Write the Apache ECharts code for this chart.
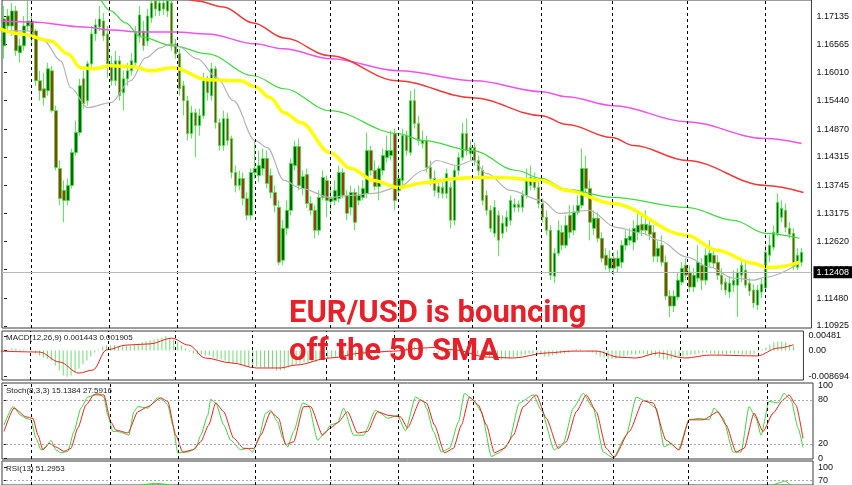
<!DOCTYPE html>
<html><head><meta charset="utf-8">
<script src="https://cdn.jsdelivr.net/npm/echarts@6/dist/echarts.min.js"></script>
<style>html,body{margin:0;padding:0;background:#fff}#c{width:852px;height:485px}</style>
</head><body><div id="c"></div>
<script>
// candles: [open, close, low, high]
const candles = [
[1.1654,1.1708,1.1628,1.1734],[1.1714,1.1694,1.1684,1.1728],[1.1694,1.1724,1.1674,1.1740],[1.1724,1.1644,1.1634,1.1734],[1.1640,1.1654,1.1620,1.1668],
[1.1654,1.1694,1.1644,1.1714],[1.1694,1.1704,1.1684,1.1744],[1.1704,1.1668,1.1660,1.1714],[1.1684,1.1584,1.1574,1.1688],[1.1584,1.1564,1.1544,1.1604],
[1.1568,1.1550,1.1534,1.1600],[1.1564,1.1608,1.1554,1.1620],[1.1604,1.1524,1.1520,1.1614],[1.1524,1.1410,1.1404,1.1534],[1.1408,1.1348,1.1334,1.1424],
[1.1364,1.1344,1.1300,1.1384],[1.1344,1.1374,1.1334,1.1388],[1.1374,1.1440,1.1368,1.1448],[1.1440,1.1480,1.1434,1.1504],[1.1480,1.1574,1.1474,1.1588],
[1.1588,1.1538,1.1528,1.1604],[1.1544,1.1618,1.1534,1.1624],[1.1618,1.1678,1.1612,1.1694],[1.1678,1.1696,1.1664,1.1708],[1.1692,1.1708,1.1684,1.1734],
[1.1704,1.1674,1.1664,1.1720],[1.1678,1.1618,1.1590,1.1694],[1.1618,1.1584,1.1574,1.1634],[1.1584,1.1624,1.1574,1.1644],[1.1624,1.1554,1.1544,1.1634],
[1.1560,1.1588,1.1524,1.1604],[1.1588,1.1604,1.1574,1.1620],[1.1604,1.1624,1.1594,1.1640],[1.1620,1.1680,1.1614,1.1694],[1.1674,1.1716,1.1660,1.1734],
[1.1684,1.1654,1.1644,1.1704],[1.1664,1.1714,1.1654,1.1728],[1.1710,1.1740,1.1700,1.1754],[1.1744,1.1728,1.1714,1.1760],[1.1724,1.1740,1.1714,1.1764],
[1.1740,1.1728,1.1716,1.1756],[1.1724,1.1744,1.1712,1.1760],[1.1740,1.1654,1.1644,1.1748],[1.1658,1.1638,1.1628,1.1668],[1.1638,1.1568,1.1554,1.1648],
[1.1574,1.1544,1.1514,1.1584],[1.1544,1.1478,1.1464,1.1554],[1.1478,1.1520,1.1468,1.1534],[1.1520,1.1494,1.1430,1.1528],[1.1494,1.1514,1.1474,1.1528],
[1.1514,1.1584,1.1508,1.1600],[1.1584,1.1560,1.1544,1.1594],[1.1554,1.1608,1.1544,1.1620],[1.1608,1.1500,1.1488,1.1614],[1.1500,1.1454,1.1444,1.1508],
[1.1454,1.1508,1.1444,1.1524],[1.1508,1.1464,1.1454,1.1520],[1.1468,1.1400,1.1388,1.1474],[1.1400,1.1374,1.1360,1.1414],[1.1374,1.1388,1.1364,1.1404],
[1.1388,1.1348,1.1334,1.1400],[1.1348,1.1314,1.1304,1.1360],[1.1314,1.1400,1.1304,1.1408],[1.1400,1.1408,1.1388,1.1464],[1.1394,1.1414,1.1380,1.1444],
[1.1408,1.1428,1.1394,1.1448],[1.1428,1.1378,1.1368,1.1444],[1.1394,1.1360,1.1348,1.1408],[1.1360,1.1334,1.1320,1.1374],[1.1330,1.1220,1.1214,1.1344],
[1.1224,1.1288,1.1214,1.1304],[1.1288,1.1324,1.1274,1.1344],[1.1324,1.1418,1.1314,1.1428],[1.1414,1.1452,1.1404,1.1464],[1.1452,1.1374,1.1364,1.1468],
[1.1368,1.1392,1.1354,1.1404],[1.1396,1.1338,1.1328,1.1408],[1.1338,1.1324,1.1314,1.1352],[1.1324,1.1284,1.1268,1.1334],[1.1284,1.1350,1.1274,1.1364],
[1.1350,1.1390,1.1344,1.1404],[1.1384,1.1344,1.1310,1.1394],[1.1342,1.1348,1.1324,1.1374],[1.1344,1.1364,1.1334,1.1384],[1.1348,1.1400,1.1340,1.1414],
[1.1400,1.1354,1.1348,1.1408],[1.1354,1.1318,1.1304,1.1364],[1.1330,1.1360,1.1314,1.1374],[1.1360,1.1300,1.1284,1.1368],[1.1344,1.1354,1.1334,1.1374],
[1.1350,1.1368,1.1344,1.1384],[1.1358,1.1444,1.1348,1.1480],[1.1444,1.1404,1.1394,1.1454],[1.1404,1.1372,1.1364,1.1424],[1.1372,1.1408,1.1344,1.1414],
[1.1404,1.1434,1.1394,1.1448],[1.1430,1.1444,1.1420,1.1474],[1.1434,1.1444,1.1424,1.1484],[1.1478,1.1344,1.1324,1.1488],[1.1364,1.1388,1.1354,1.1404],
[1.1384,1.1474,1.1374,1.1488],[1.1474,1.1444,1.1434,1.1484],[1.1440,1.1544,1.1434,1.1564],[1.1544,1.1498,1.1488,1.1568],[1.1498,1.1464,1.1454,1.1514],
[1.1458,1.1464,1.1448,1.1484],[1.1464,1.1410,1.1400,1.1474],[1.1410,1.1388,1.1374,1.1424],[1.1388,1.1364,1.1352,1.1404],[1.1360,1.1372,1.1348,1.1384],
[1.1370,1.1358,1.1348,1.1380],[1.1358,1.1398,1.1348,1.1408],[1.1370,1.1304,1.1288,1.1380],[1.1304,1.1404,1.1294,1.1414],[1.1404,1.1430,1.1394,1.1440],
[1.1430,1.1478,1.1424,1.1500],[1.1478,1.1444,1.1434,1.1508],[1.1438,1.1450,1.1424,1.1464],[1.1450,1.1424,1.1414,1.1460],[1.1424,1.1404,1.1394,1.1434],
[1.1404,1.1344,1.1334,1.1414],[1.1354,1.1324,1.1314,1.1364],[1.1324,1.1288,1.1280,1.1334],[1.1278,1.1330,1.1270,1.1344],[1.1314,1.1264,1.1232,1.1324],
[1.1278,1.1298,1.1268,1.1314],[1.1292,1.1310,1.1280,1.1324],[1.1304,1.1344,1.1294,1.1354],[1.1330,1.1336,1.1320,1.1348],[1.1336,1.1330,1.1320,1.1344],
[1.1330,1.1354,1.1320,1.1364],[1.1354,1.1384,1.1348,1.1408],[1.1374,1.1390,1.1364,1.1414],[1.1388,1.1370,1.1364,1.1400],[1.1370,1.1338,1.1328,1.1384],
[1.1338,1.1310,1.1300,1.1348],[1.1310,1.1284,1.1274,1.1324],[1.1284,1.1194,1.1184,1.1294],[1.1192,1.1238,1.1178,1.1248],[1.1238,1.1284,1.1232,1.1304],
[1.1280,1.1254,1.1244,1.1294],[1.1254,1.1294,1.1248,1.1314],[1.1314,1.1280,1.1268,1.1334],[1.1284,1.1320,1.1274,1.1334],[1.1320,1.1334,1.1314,1.1354],
[1.1334,1.1408,1.1328,1.1448],[1.1408,1.1368,1.1360,1.1434],[1.1368,1.1300,1.1264,1.1384],[1.1288,1.1308,1.1274,1.1324],[1.1308,1.1268,1.1260,1.1320],
[1.1268,1.1228,1.1220,1.1280],[1.1234,1.1214,1.1204,1.1248],[1.1208,1.1228,1.1200,1.1244],[1.1228,1.1208,1.1194,1.1240],[1.1212,1.1228,1.1200,1.1244],
[1.1220,1.1254,1.1208,1.1264],[1.1254,1.1268,1.1244,1.1284],[1.1264,1.1272,1.1254,1.1288],[1.1260,1.1288,1.1244,1.1304],[1.1280,1.1294,1.1264,1.1324],
[1.1296,1.1284,1.1272,1.1320],[1.1284,1.1296,1.1274,1.1324],[1.1294,1.1276,1.1264,1.1308],[1.1280,1.1232,1.1220,1.1294],[1.1232,1.1248,1.1220,1.1264],
[1.1254,1.1220,1.1212,1.1274],[1.1220,1.1152,1.1144,1.1234],[1.1152,1.1132,1.1110,1.1164],[1.1132,1.1152,1.1120,1.1164],[1.1150,1.1184,1.1144,1.1200],
[1.1180,1.1208,1.1174,1.1220],[1.1214,1.1194,1.1184,1.1228],[1.1200,1.1170,1.1160,1.1214],[1.1170,1.1194,1.1160,1.1208],[1.1188,1.1220,1.1180,1.1254],
[1.1214,1.1184,1.1164,1.1228],[1.1184,1.1234,1.1174,1.1248],[1.1220,1.1238,1.1212,1.1264],[1.1234,1.1218,1.1208,1.1248],[1.1220,1.1194,1.1184,1.1234],
[1.1194,1.1176,1.1164,1.1208],[1.1180,1.1164,1.1154,1.1188],[1.1160,1.1178,1.1148,1.1192],[1.1174,1.1184,1.1160,1.1204],[1.1174,1.1200,1.1110,1.1208],
[1.1194,1.1214,1.1180,1.1228],[1.1204,1.1174,1.1168,1.1220],[1.1178,1.1162,1.1152,1.1188],[1.1164,1.1138,1.1128,1.1176],[1.1134,1.1164,1.1124,1.1174],
[1.1160,1.1176,1.1148,1.1188],[1.1168,1.1240,1.1160,1.1254],[1.1234,1.1254,1.1220,1.1274],[1.1250,1.1280,1.1244,1.1294],[1.1278,1.1340,1.1272,1.1358],
[1.1310,1.1328,1.1300,1.1344],[1.1324,1.1290,1.1280,1.1338],[1.1288,1.1276,1.1268,1.1300],[1.1278,1.1212,1.1204,1.1288],[1.1210,1.1234,1.1204,1.1248],
[1.1220,1.1240,1.1212,1.1248]
];
const lastPrice = 1.12408;
const priceTicks = [1.17135,1.16565,1.16010,1.15440,1.14870,1.14315,1.13745,1.13175,1.12620,1.12050,1.11480,1.10925];
// moving averages: [bar index, price]
const sma20 = [[-1,1.1680],[1.75,1.1684],[6,1.1684],[10,1.1664],[14.25,1.1624],[16.75,1.1570],[21,1.1530],[26.75,1.1540],[31.75,1.1584],[35.5,1.1630],[39.25,1.1650],[41.75,1.1658],[43.5,1.1654],[48.5,1.1628],[53.5,1.1590],[57.5,1.1544],[63,1.1464],[66,1.1450],[70.25,1.1384],[74.5,1.1368],[81.75,1.1350],[87,1.1354],[92.75,1.1358],[98.75,1.1370],[105.25,1.1404],[108.5,1.1424],[113.5,1.1414],[117.75,1.1424],[121,1.1398],[127,1.1364],[134.75,1.1344],[139.25,1.1318],[146.75,1.1324],[153.5,1.1290],[160,1.1278],[164.25,1.1264],[171.25,1.1230],[177,1.1210],[183,1.1188],[188,1.1184],[191,1.1190],[199.5,1.1218]];
const sma50 = [[-1,1.1688],[4.25,1.1678],[11.75,1.1664],[16,1.1638],[19.25,1.1610],[22.5,1.1608],[26.75,1.1614],[32.5,1.1612],[36.75,1.1604],[42.5,1.1610],[51,1.1586],[59.25,1.1584],[63,1.1572],[66.75,1.1550],[70.25,1.1520],[74.5,1.1500],[81.75,1.1440],[87,1.1408],[92.75,1.1384],[98.75,1.1370],[106,1.1380],[113.5,1.1388],[117.5,1.1390],[124.5,1.1390],[134.75,1.1384],[141.25,1.1364],[152.5,1.1338],[171.25,1.1274],[178.75,1.1244],[188,1.1218],[191,1.1210],[193.75,1.1210],[199.5,1.1220]];
const sma100 = [[15,1.1800],[23,1.1754],[26.75,1.1724],[30.5,1.1700],[34.25,1.1672],[42.5,1.1654],[51,1.1638],[62.5,1.1594],[70.25,1.1568],[81.75,1.1524],[98.75,1.1478],[105.25,1.1464],[117.5,1.1444],[128.5,1.1404],[134.75,1.1388],[141.25,1.1366],[152.5,1.1350],[171.25,1.1330],[183,1.1304],[191,1.1278],[199.5,1.1268]];
const sma200 = [[24,1.1804],[36.75,1.1772],[48.5,1.1744],[55,1.1732],[62.5,1.1700],[70.25,1.1670],[81.75,1.1634],[98.75,1.1584],[117.5,1.1550],[134.75,1.1514],[141.25,1.1496],[152.5,1.1470],[158,1.1454],[171.25,1.1424],[191,1.1374],[200.5,1.1360]];
const smaSlow = [[-1,1.1704],[7,1.1702],[20,1.1692],[27,1.1686],[34,1.1682],[43,1.1682],[51,1.1678],[63,1.1658],[70,1.1648],[82,1.1628],[99,1.1604],[118,1.1584],[135,1.1562],[141,1.1552],[153,1.1534],[171,1.1502],[191,1.1468],[200,1.1458]];
// MACD
const macdHist = [
0.0003,0.0003,0.0007,0.0007,0.0003,0.0003,0,-0.0003,-0.0010,-0.0017,
-0.0023,-0.0027,-0.0033,-0.0050,-0.0066,-0.0083,-0.0087,-0.0083,-0.0073,-0.0060,
-0.0046,-0.0033,-0.0020,-0.0007,0.0003,0.0013,0.0017,0.0017,0.0017,0.0013,
0.0013,0.0017,0.0017,0.0020,0.0023,0.0027,0.0030,0.0033,0.0037,0.0040,
0.0043,0.0048,0.0043,0.0037,0.0027,0.0017,0.0007,-0.0003,-0.0010,-0.0013,
-0.0013,-0.0017,-0.0017,-0.0023,-0.0030,-0.0030,-0.0033,-0.0040,-0.0043,-0.0046,
-0.0050,-0.0053,-0.0053,-0.0053,-0.0053,-0.0056,-0.0056,-0.0060,-0.0060,-0.0066,
-0.0066,-0.0063,-0.0056,-0.0050,-0.0046,-0.0043,-0.0040,-0.0040,-0.0040,-0.0037,
-0.0033,-0.0030,-0.0027,-0.0023,-0.0020,-0.0020,-0.0020,-0.0020,-0.0020,-0.0020,
-0.0017,-0.0013,-0.0010,-0.0010,-0.0010,-0.0007,-0.0007,-0.0003,-0.0007,-0.0007,
0,0,0.0010,0.0013,0.0013,0.0010,0.0007,0.0003,0,-0.0003,
-0.0007,-0.0007,-0.0013,-0.0010,-0.0007,-0.0003,0,0,-0.0003,-0.0007,
-0.0013,-0.0017,-0.0023,-0.0023,-0.0030,-0.0030,-0.0030,-0.0027,-0.0027,-0.0023,
-0.0020,-0.0017,-0.0013,-0.0010,-0.0010,-0.0010,-0.0013,-0.0020,-0.0020,-0.0017,
-0.0013,-0.0010,-0.0010,-0.0007,-0.0003,0.0003,0.0003,0,-0.0003,-0.0007,
-0.0013,-0.0020,-0.0023,-0.0027,-0.0027,-0.0027,-0.0023,-0.0020,-0.0017,-0.0013,
-0.0013,-0.0010,-0.0010,-0.0013,-0.0013,-0.0017,-0.0023,-0.0030,-0.0030,-0.0027,
-0.0023,-0.0020,-0.0020,-0.0017,-0.0013,-0.0013,-0.0010,-0.0007,-0.0007,-0.0010,
-0.0010,-0.0013,-0.0013,-0.0013,-0.0010,-0.0010,-0.0010,-0.0013,-0.0013,-0.0013,
-0.0010,-0.0003,0.0003,0.0010,0.0020,0.0027,0.0030,0.0030,0.0027,0.0020,
0.00144
];
const macdSignal = [[-1,-0.0002],[9,-0.0005],[14,-0.0038],[19,-0.0075],[22.5,-0.0065],[26,0.0002],[31,0.0018],[37,0.0022],[42.5,0.0041],[46.75,0.0018],[51,-0.0025],[57.5,-0.0041],[64,-0.0058],[70,-0.0058],[74,-0.0048],[82.5,-0.0025],[91,-0.0008],[99,-0.0002],[105.75,0.0008],[109,0.0010],[114,0.0002],[122.5,-0.0022],[129,-0.0025],[137.5,-0.0008],[144,-0.0002],[150,-0.0002],[155.75,-0.0022],[160,-0.0025],[165.75,-0.0008],[172.5,-0.0025],[179,-0.0015],[190.75,-0.0018],[196,0.0008],[200,0.0019]];
const macdTicks = [0.00481, 0, -0.008694];
const macdTickText = ['0.00481', '0.00', '-0.008694'];
// Stochastic
const stochK = [[0,46],[2.25,71],[4.25,59],[5.5,55],[6.75,53],[8,28],[9.25,12],[10.5,16],[11.75,25],[13,12],[14.25,8],[16,10],[17.5,37],[19.25,69],[21,84],[23.5,89],[25,84],[26,59],[27.25,37],[28.5,37],[29.75,35],[31.25,32],[32.5,64],[33.5,71],[36,69],[38.5,83],[39.75,80],[41,73],[42.25,46],[43.5,8],[46,9],[48,14],[49.25,32],[51,59],[51.75,81],[53,76],[55,46],[56.75,25],[59.25,12],[61,14],[62.25,9],[63.5,23],[65.5,62],[66.75,66],[68.5,50],[69.75,28],[71,16],[72.5,37],[74.75,76],[76.25,73],[78.5,25],[80.5,37],[81.75,46],[83.5,49],[85,69],[87.5,32],[90,32],[93,66],[94.25,62],[96,55],[98.5,59],[100.5,38],[103,84],[105,78],[105.75,69],[107.5,37],[109.5,9],[111.5,14],[113.75,50],[115.25,89],[117.5,80],[119.5,64],[122,3],[124,8],[126.25,21],[129,76],[132.5,87],[134.5,66],[137.75,12],[140,21],[142.5,69],[145,89],[147.5,69],[150,9],[152.5,1],[155.75,32],[158.25,84],[160.75,78],[163.25,69],[165.25,16],[167,21],[168.75,12],[171.5,53],[174,55],[176.5,53],[177.75,69],[180,55],[182.5,9],[184.5,9],[186.5,71],[188.25,55],[189.5,32],[191.5,78],[193.75,76],[195.25,89],[197,80],[198.75,42],[200,15.14]];
const stochD = [[0,37],[2.5,69],[5.5,57],[7.25,55],[8.5,32],[9.75,12],[11.25,21],[13,16],[15,10],[16.75,14],[18.5,42],[20.5,73],[22.5,87],[25,87],[26.75,50],[28,39],[31,35],[33.5,64],[36,71],[39.25,83],[41,78],[43,32],[44.75,9],[47.25,12],[49.25,23],[51.25,46],[53,76],[55,64],[57.5,28],[60,14],[62.5,14],[64.25,32],[66.75,64],[68.75,55],[70.5,19],[72.5,23],[75,71],[76.75,71],[79.75,32],[81.75,42],[83.5,49],[86,64],[88.5,35],[91,37],[93.5,64],[96.25,59],[99.25,57],[101,42],[104.25,80],[105.75,76],[107.75,46],[110.25,8],[112.5,14],[114.5,46],[116.5,84],[118.75,73],[120.75,46],[122.75,8],[125.25,14],[127.5,32],[130,71],[133.25,87],[135.75,55],[138.75,14],[140.75,23],[143.25,64],[145.75,87],[148.25,64],[150.75,14],[152.75,2],[156.5,37],[160,79],[162.5,76],[165.75,25],[169,12],[171.5,53],[175,53],[178.75,64],[180.75,46],[183.25,9],[185.25,14],[187.75,62],[190,37],[192.5,62],[195,80],[196.5,87],[198.25,73],[200,27.59]];
const stochTicks = [100, 80, 20, 0];
const stochLevels = [80, 20];
// RSI
const rsi = [[-1,55],[5,58],[10,40],[15,28],[20,50],[25,56],[30,47],[35,60],[38,63],[41,60],[45,42],[50,48],[55,38],[60,34],[62,40],[69,28],[73,47],[80,40],[88,38],[91,52],[98,40],[102,58],[106,48],[112,40],[115,52],[120,42],[124,36],[131,48],[137,34],[145,55],[150,40],[155,35],[160,46],[167,30],[172,40],[176,44],[182,36],[188,33],[191,52],[194,64],[195.5,68],[197,60],[198,48],[200,51.3]];
const rsiTicks = [100, 70];
const rsiLevels = [70];
// vertical time separators (bar index)
const separators = [6.75, 26.5, 43.5, 63, 81.75, 98.75, 117.5, 134.75, 152.5, 171.25, 191];
const headline = ['EUR/USD is bouncing', 'off the 50 SMA'];
const panelLabels = ['MACD(12,26,9) 0.001443 0.001905', 'Stoch(8,3,3) 15.1384 27.5916', 'RSI(13) 51.2953'];

const N = 203;
const cats = Array.from({length: N}, (_, i) => String(i));
const chart = echarts.init(document.getElementById('c'), null, {renderer: 'canvas'});
const FONT = 'Liberation Sans';
const grids = [
  {left: 2, width: 811, top: -1, height: 329},
  {left: 2, width: 811, top: 331, height: 49},
  {left: 2, width: 811, top: 383, height: 76},
  {left: 2, width: 811, top: 461, height: 25}
].map(g => Object.assign(g, {show: true, borderColor: '#3a3a3a', borderWidth: 1, backgroundColor: '#fff'}));

const xAxes = [];
grids.forEach((g, gi) => {
  xAxes.push({type: 'category', gridIndex: gi, data: cats, boundaryGap: true, show: false});
  xAxes.push({type: 'value', gridIndex: gi, min: -0.5, max: N - 0.5, show: false});
});
function yAx(gi, min, max, ticks, fmt) {
  return {
    type: 'value', gridIndex: gi, position: 'right', min, max, scale: true,
    splitLine: {show: false}, axisLine: {show: false},
    axisTick: {show: true, customValues: ticks, length: 3, lineStyle: {color: '#222'}},
    axisLabel: {customValues: ticks, formatter: fmt, fontSize: 9, color: '#111', margin: 5, fontFamily: FONT}
  };
}
const yAxes = [
  yAx(0, 1.1088, 1.1746, priceTicks, v => v.toFixed(5)),
  yAx(1, -0.009794, 0.006474, macdTicks, v => { const k = macdTicks.indexOf(v); return k >= 0 ? macdTickText[k] : String(v); }),
  yAx(2, -0.45, 103.2, stochTicks, v => String(v)),
  yAx(3, 58.9, 114.4, rsiTicks, v => String(v))
];
const sepLine = separators.map(v => ({xAxis: v}));
function sepSeries(gi) {
  return {type: 'line', xAxisIndex: gi * 2 + 1, yAxisIndex: gi, data: [], silent: true, z: 1,
    markLine: {silent: true, symbol: ['none', 'none'], label: {show: false}, animation: false,
      lineStyle: {color: '#000', type: [3, 3], width: 1}, data: sepLine}};
}
function levelSeries(gi, levels) {
  return {type: 'line', xAxisIndex: gi * 2 + 1, yAxisIndex: gi, data: [], silent: true, z: 1,
    markLine: {silent: true, symbol: ['none', 'none'], label: {show: false}, animation: false,
      lineStyle: {color: '#a8a8a8', type: [2, 2], width: 1}, data: levels.map(v => ({yAxis: v}))}};
}
function maLine(data, color, width, z) {
  return {type: 'line', xAxisIndex: 1, yAxisIndex: 0, data, showSymbol: false, smooth: 0.35, smoothMonotone: 'x',
    clip: true, silent: true, z: z || 3, lineStyle: {color, width}};
}
const series = [
  sepSeries(0), sepSeries(1), sepSeries(2), sepSeries(3),
  levelSeries(2, stochLevels), levelSeries(3, rsiLevels),
  {type: 'candlestick', xAxisIndex: 0, yAxisIndex: 0, data: candles, barWidth: 3, clip: true, z: 2, silent: true,
    itemStyle: {color: '#086008', color0: '#a8321a', borderColor: '#2ee82e', borderColor0: '#2ee82e', borderWidth: 0.8},
    markLine: {silent: true, symbol: ['none', 'none'], animation: false,
      lineStyle: {color: '#b9b9b9', type: 'solid', width: 1},
      label: {show: true, position: 'end', formatter: () => lastPrice.toFixed(5), backgroundColor: '#000', color: '#fff',
        padding: [2, 3, 1, 3], fontSize: 9, fontFamily: FONT, distance: 2},
      data: [{yAxis: lastPrice}]}},
  maLine(smaSlow, '#f052f0', 1.5),
  maLine(sma200, '#f03a3a', 1.5),
  maLine(sma100, '#3ddc3d', 1.2),
  maLine(sma20, '#b4b4b4', 1.2),
  maLine(sma50, '#ffff00', 3.5, 4),
  {type: 'bar', xAxisIndex: 2, yAxisIndex: 1, data: macdHist, barWidth: 1, silent: true, z: 2,
    itemStyle: {color: '#6fdc6f'}},
  {type: 'line', xAxisIndex: 3, yAxisIndex: 1, data: macdSignal, showSymbol: false, smooth: 0.35, smoothMonotone: 'x', clip: true, silent: true, z: 3,
    lineStyle: {color: '#f02020', width: 1}},
  {type: 'line', xAxisIndex: 5, yAxisIndex: 2, data: stochK, showSymbol: false, smooth: 0.2, smoothMonotone: 'x', clip: true, silent: true, z: 3,
    lineStyle: {color: '#3ad83a', width: 1}},
  {type: 'line', xAxisIndex: 5, yAxisIndex: 2, data: stochD, showSymbol: false, smooth: 0.2, smoothMonotone: 'x', clip: true, silent: true, z: 3,
    lineStyle: {color: '#f02020', width: 1}},
  {type: 'line', xAxisIndex: 7, yAxisIndex: 3, data: rsi, showSymbol: false, smooth: 0.3, smoothMonotone: 'x', clip: true, silent: true, z: 3,
    lineStyle: {color: '#3ad83a', width: 1}}
];
const labelYs = [338, 391, 469];
const graphic = panelLabels.map((t, k) => ({type: 'text', x: 6, y: labelYs[k], z: 50, silent: true,
  style: {text: t, fill: '#222', font: '8px "Liberation Sans"', verticalAlign: 'middle', align: 'left'}}));
const headYs = [314, 352];
headline.forEach((t, k) => graphic.push({type: 'text', x: 289, y: headYs[k], z: 60, silent: true,
  style: {text: t, fill: '#e8202a', font: 'bold 31px Roboto', verticalAlign: 'middle', align: 'left'}}));

chart.setOption({
  animation: false,
  backgroundColor: '#fff',
  grid: grids, xAxis: xAxes, yAxis: yAxes, series, graphic
});
</script></body></html>
